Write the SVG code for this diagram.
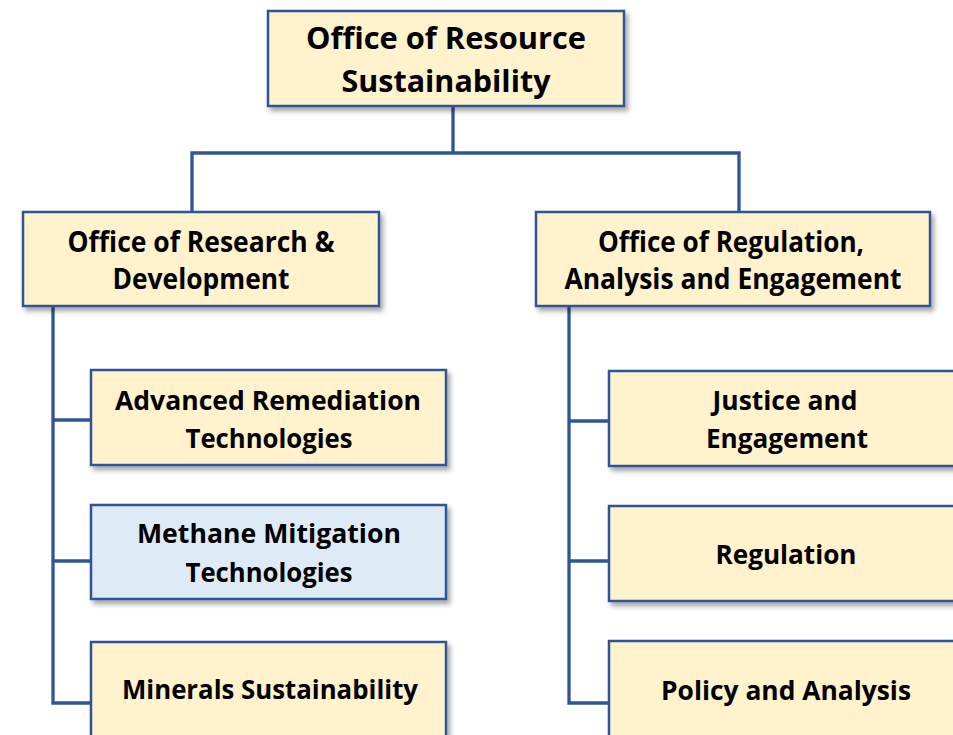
<svg xmlns="http://www.w3.org/2000/svg" width="953" height="735" viewBox="0 0 953 735">
<defs>
<filter id="sh" x="-10%" y="-10%" width="130%" height="140%">
<feDropShadow dx="3" dy="4" stdDeviation="2.5" flood-color="#000" flood-opacity="0.35"/>
</filter>
<style>
.box{fill:#FFF2CC;stroke:#2F5597;stroke-width:2.5;filter:url(#sh)}
.blue{fill:#DEEBF7}
.t{font-family:"Open Sans","Liberation Sans",sans-serif;font-weight:700;fill:#000;text-anchor:middle}
.big{font-size:31px}
.mid{font-size:28px}
.sm{font-size:27.5px}
.ln{fill:none;stroke:#2F5597;stroke-width:3.3}
</style>
</defs>
<rect width="953" height="735" fill="#fff"/>
<g id="connectors">
<path class="ln" d="M453 106 V153 M192 212 V153 H739 V212"/>
<path class="ln" d="M53 306 V703 H91 M53 420 H91 M53 561 H91"/>
<path class="ln" d="M569 306 V703 H609 M569 421 H609 M569 561 H609"/>
</g>
<g id="n-ors">
<rect class="box" x="268" y="11" width="356" height="95"/>
<text class="t big" x="446" y="49" textLength="280" lengthAdjust="spacingAndGlyphs">Office of Resource</text>
<text class="t big" x="446" y="92" textLength="209" lengthAdjust="spacingAndGlyphs">Sustainability</text>
</g>
<g id="n-rd">
<rect class="box" x="23" y="212" width="356" height="94"/>
<text class="t mid" x="201" y="252" textLength="267" lengthAdjust="spacingAndGlyphs">Office of Research &amp;</text>
<text class="t mid" x="201" y="289" textLength="177" lengthAdjust="spacingAndGlyphs">Development</text>
</g>
<g id="n-rae">
<rect class="box" x="536" y="212" width="394" height="94"/>
<text class="t mid" x="731" y="252" textLength="266" lengthAdjust="spacingAndGlyphs">Office of Regulation,</text>
<text class="t mid" x="733" y="289" textLength="337" lengthAdjust="spacingAndGlyphs">Analysis and Engagement</text>
</g>
<g id="n-art">
<rect class="box" x="91" y="370" width="355" height="95"/>
<text class="t sm" x="268" y="410" textLength="306" lengthAdjust="spacingAndGlyphs">Advanced Remediation</text>
<text class="t sm" x="269" y="448" textLength="167" lengthAdjust="spacingAndGlyphs">Technologies</text>
</g>
<g id="n-mmt">
<rect class="box blue" x="91" y="505" width="355" height="94"/>
<text class="t sm" x="269" y="543" textLength="264" lengthAdjust="spacingAndGlyphs">Methane Mitigation</text>
<text class="t sm" x="269" y="582" textLength="167" lengthAdjust="spacingAndGlyphs">Technologies</text>
</g>
<g id="n-ms">
<rect class="box" x="91" y="642" width="355" height="110"/>
<text class="t sm" x="270" y="699" textLength="296" lengthAdjust="spacingAndGlyphs">Minerals Sustainability</text>
</g>
<g id="n-je">
<rect class="box" x="609" y="371" width="355" height="95"/>
<text class="t sm" x="785" y="410" textLength="145" lengthAdjust="spacingAndGlyphs">Justice and</text>
<text class="t sm" x="787" y="448" textLength="162" lengthAdjust="spacingAndGlyphs">Engagement</text>
</g>
<g id="n-reg">
<rect class="box" x="609" y="506" width="355" height="95"/>
<text class="t sm" x="786" y="564" textLength="141" lengthAdjust="spacingAndGlyphs">Regulation</text>
</g>
<g id="n-pa">
<rect class="box" x="609" y="641" width="355" height="110"/>
<text class="t sm" x="786" y="700" textLength="250" lengthAdjust="spacingAndGlyphs">Policy and Analysis</text>
</g>
</svg>
